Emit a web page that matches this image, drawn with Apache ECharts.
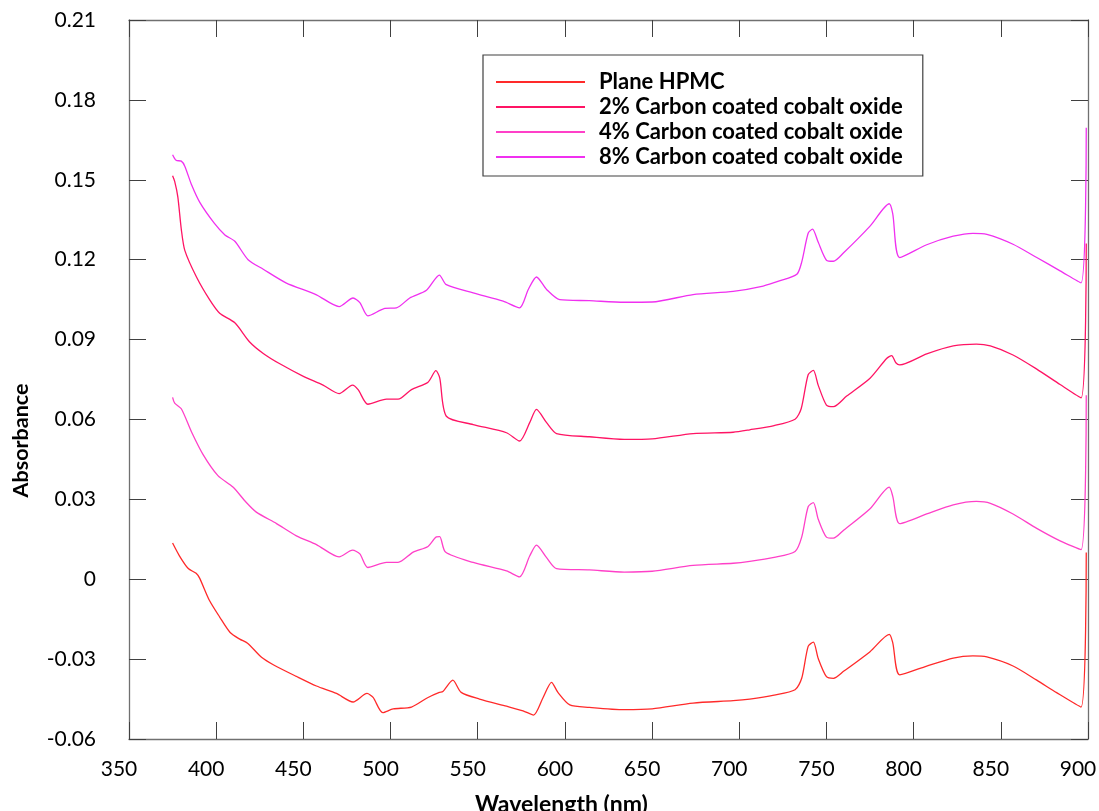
<!DOCTYPE html>
<html>
<head>
<meta charset="utf-8">
<script src="https://cdn.jsdelivr.net/npm/echarts@6/dist/echarts.min.js"></script>
<style>
html,body{margin:0;padding:0;background:#fff;}
#chart{width:1099px;height:811px;}
</style>
</head>
<body>
<div id="chart"></div>
<script>
const seriesNames = ['Plane HPMC', '2% Carbon coated cobalt oxide', '4% Carbon coated cobalt oxide', '8% Carbon coated cobalt oxide'];
const xTicks = [350, 400, 450, 500, 550, 600, 650, 700, 750, 800, 850, 900];
const yTicks = [-0.06, -0.03, 0, 0.03, 0.06, 0.09, 0.12, 0.15, 0.18, 0.21];

const wlPlane = [375, 379, 384, 388.5, 390.5, 396, 402, 408, 413.5, 418, 426, 433, 446, 457.5, 469, 478.5, 486.5, 490, 495.5, 501.5, 512, 521.5, 528, 530, 535.7, 540.5, 551, 566.5, 576, 582, 587.5, 592.3, 596, 602.8, 614, 634, 650, 673.5, 696.5, 706, 720, 732, 735.8, 739.5, 742.5, 745.3, 750, 754, 760, 775, 786, 788, 792, 807.5, 822.7, 834, 842, 857, 870.6, 882, 896, 899];
const absPlane = [0.0136, 0.0087, 0.0040, 0.0022, 0.0004, -0.0078, -0.0142, -0.0200, -0.0225, -0.0240, -0.0293, -0.0322, -0.0365, -0.0401, -0.0429, -0.0461, -0.0429, -0.0444, -0.0501, -0.0487, -0.0480, -0.0444, -0.0425, -0.0422, -0.0379, -0.0425, -0.0450, -0.0477, -0.0494, -0.0510, -0.0444, -0.0387, -0.0425, -0.0472, -0.0481, -0.0490, -0.0487, -0.0465, -0.0456, -0.0450, -0.0435, -0.0415, -0.0372, -0.0252, -0.0236, -0.0298, -0.0366, -0.0372, -0.0345, -0.0272, -0.0207, -0.0238, -0.0359, -0.0326, -0.0296, -0.0288, -0.0292, -0.0326, -0.0379, -0.0426, -0.0480, 0.0100];

const wl2 = [375, 376.2, 378, 380, 382, 388.7, 396.3, 402, 410.7, 419.2, 427, 436.5, 450, 461.3, 470.5, 478.2, 481.4, 487, 497.7, 504.3, 512, 521.5, 526, 528.2, 532, 547.4, 566.5, 574, 579.8, 583.7, 589.5, 595.2, 614, 634, 650, 673.5, 696.5, 706, 720, 732, 735.5, 739.5, 742.5, 745.3, 750, 754, 761.6, 775, 784.5, 787.4, 789.8, 792, 807.5, 822.7, 836, 844, 857, 870.6, 884, 896, 899];
const abs2 = [0.1515, 0.1494, 0.1436, 0.1314, 0.1235, 0.1135, 0.1049, 0.0999, 0.0963, 0.0891, 0.0848, 0.0809, 0.0762, 0.0729, 0.0697, 0.0729, 0.0712, 0.0657, 0.0676, 0.0676, 0.0712, 0.0740, 0.0783, 0.0756, 0.0612, 0.0581, 0.0550, 0.0519, 0.0588, 0.0638, 0.0588, 0.0547, 0.0535, 0.0525, 0.0527, 0.0547, 0.0552, 0.0561, 0.0577, 0.0601, 0.0640, 0.0768, 0.0784, 0.0728, 0.0654, 0.0648, 0.0688, 0.0755, 0.0829, 0.0840, 0.0813, 0.0805, 0.0846, 0.0876, 0.0883, 0.0876, 0.0842, 0.0789, 0.0731, 0.0681, 0.1261];

const wl4 = [375, 376.2, 380, 385.8, 392.5, 401, 409.6, 417.3, 423, 434.6, 446, 457.5, 470.5, 478.2, 482.4, 487, 497.7, 504.3, 513, 521.5, 526.3, 528.2, 531.5, 547.4, 566.5, 574, 579.8, 583.7, 589.5, 595.2, 614, 634, 650, 673.5, 696.5, 706, 720, 732, 735.8, 739.5, 742.5, 745.3, 750, 754, 760, 775, 786, 788, 792, 807.5, 822.7, 836, 844, 857, 870.6, 884, 896, 899];
const abs4 = [0.0683, 0.0661, 0.0640, 0.0554, 0.0468, 0.0389, 0.0346, 0.0288, 0.0252, 0.0209, 0.0163, 0.0130, 0.0084, 0.0109, 0.0095, 0.0044, 0.0063, 0.0063, 0.0102, 0.0123, 0.0159, 0.0160, 0.0102, 0.0063, 0.0031, 0.0009, 0.0087, 0.0128, 0.0081, 0.0040, 0.0035, 0.0027, 0.0030, 0.0052, 0.0060, 0.0067, 0.0082, 0.0104, 0.0158, 0.0272, 0.0288, 0.0225, 0.0158, 0.0154, 0.0185, 0.0265, 0.0346, 0.0312, 0.0209, 0.0245, 0.0279, 0.0292, 0.0285, 0.0245, 0.0191, 0.0144, 0.0111, 0.0691];

const wl8 = [375, 377, 380, 382, 386, 390.6, 399, 405, 410.7, 418.3, 427, 440, 457.5, 470.5, 478.5, 482.4, 487, 496.7, 503.4, 511, 520.6, 528, 532, 547.4, 564.6, 574, 579, 583.7, 589.5, 597, 614, 634, 650, 673.5, 696.5, 713.7, 723, 733, 735.8, 739.5, 742, 745.3, 750, 754, 759.7, 775, 786, 788, 792, 807.5, 822.7, 834, 842, 857, 870.6, 884, 896, 899];
const abs8 = [0.1594, 0.1573, 0.1570, 0.1551, 0.1479, 0.1415, 0.1336, 0.1293, 0.1269, 0.1200, 0.1164, 0.1113, 0.1068, 0.1024, 0.1056, 0.1039, 0.0989, 0.1017, 0.1019, 0.1056, 0.1085, 0.1142, 0.1106, 0.1075, 0.1044, 0.1019, 0.1088, 0.1135, 0.1088, 0.1050, 0.1046, 0.1040, 0.1041, 0.1069, 0.1081, 0.1101, 0.1120, 0.1145, 0.1191, 0.1299, 0.1315, 0.1265, 0.1198, 0.1194, 0.1225, 0.1326, 0.1410, 0.1373, 0.1208, 0.1256, 0.1288, 0.1299, 0.1295, 0.1258, 0.1208, 0.1158, 0.1113, 0.1695];

const colors = ['#ff2a2a', '#ff1464', '#ff40c8', '#f030f0'];

function zip(xs, ys) { return xs.map((x, i) => [x, ys[i]]); }
const allData = [zip(wlPlane, absPlane), zip(wl2, abs2), zip(wl4, abs4), zip(wl8, abs8)];

const FONT = 'Lato';
const chart = echarts.init(document.getElementById('chart'), null, {renderer: 'canvas'});

const tickCommon = {show: true, inside: true, length: 17, lineStyle: {color: '#404040', width: 1}};
const lineCommon = {show: true, onZero: false, lineStyle: {color: '#707070', width: 1.3}};

chart.setOption({
  animation: false,
  backgroundColor: '#ffffff',
  grid: {left: 129, right: 11, top: 20, bottom: 72, containLabel: false, outerBoundsMode: 'none'},
  legend: {
    show: true,
    orient: 'vertical',
    left: 483,
    top: 55,
    padding: [16, 20, 8, 12],
    itemGap: 3,
    itemWidth: 89,
    itemHeight: 22,
    borderColor: '#404040',
    borderWidth: 1.2,
    borderRadius: 0,
    data: seriesNames,
    itemStyle: {opacity: 0},
    textStyle: {fontFamily: FONT, fontSize: 22, fontWeight: 'bold', color: '#000', padding: [6, 0, 0, 9]}
  },
  xAxis: [{
    type: 'value', min: xTicks[0], max: xTicks[xTicks.length - 1], interval: 50, position: 'bottom',
    axisLine: lineCommon, axisTick: tickCommon, splitLine: {show: false},
    axisLabel: {fontFamily: FONT, fontSize: 21, color: '#000', margin: 20, padding: [0, 20, 0, 0]},
    name: 'Wavelength (nm)', nameLocation: 'middle', nameGap: 54,
    nameTextStyle: {fontFamily: FONT, fontSize: 23, fontWeight: 'bold', color: '#000', padding: [0, 94, 0, 0]}
  }, {
    type: 'value', min: xTicks[0], max: xTicks[xTicks.length - 1], interval: 50, position: 'top',
    axisLine: lineCommon, axisTick: tickCommon, splitLine: {show: false}, axisLabel: {show: false}
  }],
  yAxis: [{
    type: 'value', min: yTicks[0], max: yTicks[yTicks.length - 1], interval: 0.03, position: 'left',
    axisLine: lineCommon, axisTick: tickCommon, splitLine: {show: false},
    axisLabel: {fontFamily: FONT, fontSize: 21, color: '#000', margin: 33,
      formatter: v => Math.abs(v) < 1e-9 ? '0' : v.toFixed(2)},
    name: 'Absorbance', nameLocation: 'middle', nameGap: 97, nameRotate: 90,
    nameTextStyle: {fontFamily: FONT, fontSize: 21.5, fontWeight: 'bold', color: '#000', padding: [0, 122, 0, 0]}
  }, {
    type: 'value', min: yTicks[0], max: yTicks[yTicks.length - 1], interval: 0.03, position: 'right',
    axisLine: lineCommon, axisTick: tickCommon, splitLine: {show: false}, axisLabel: {show: false}
  }],
  series: seriesNames.map((name, i) => ({
    name: name,
    type: 'line',
    xAxisIndex: 0,
    yAxisIndex: 0,
    data: allData[i],
    showSymbol: false,
    symbol: 'none',
    smooth: 0.25,
    color: colors[i],
    lineStyle: {color: colors[i], width: 1.3}
  }))
});
</script>
</body>
</html>
